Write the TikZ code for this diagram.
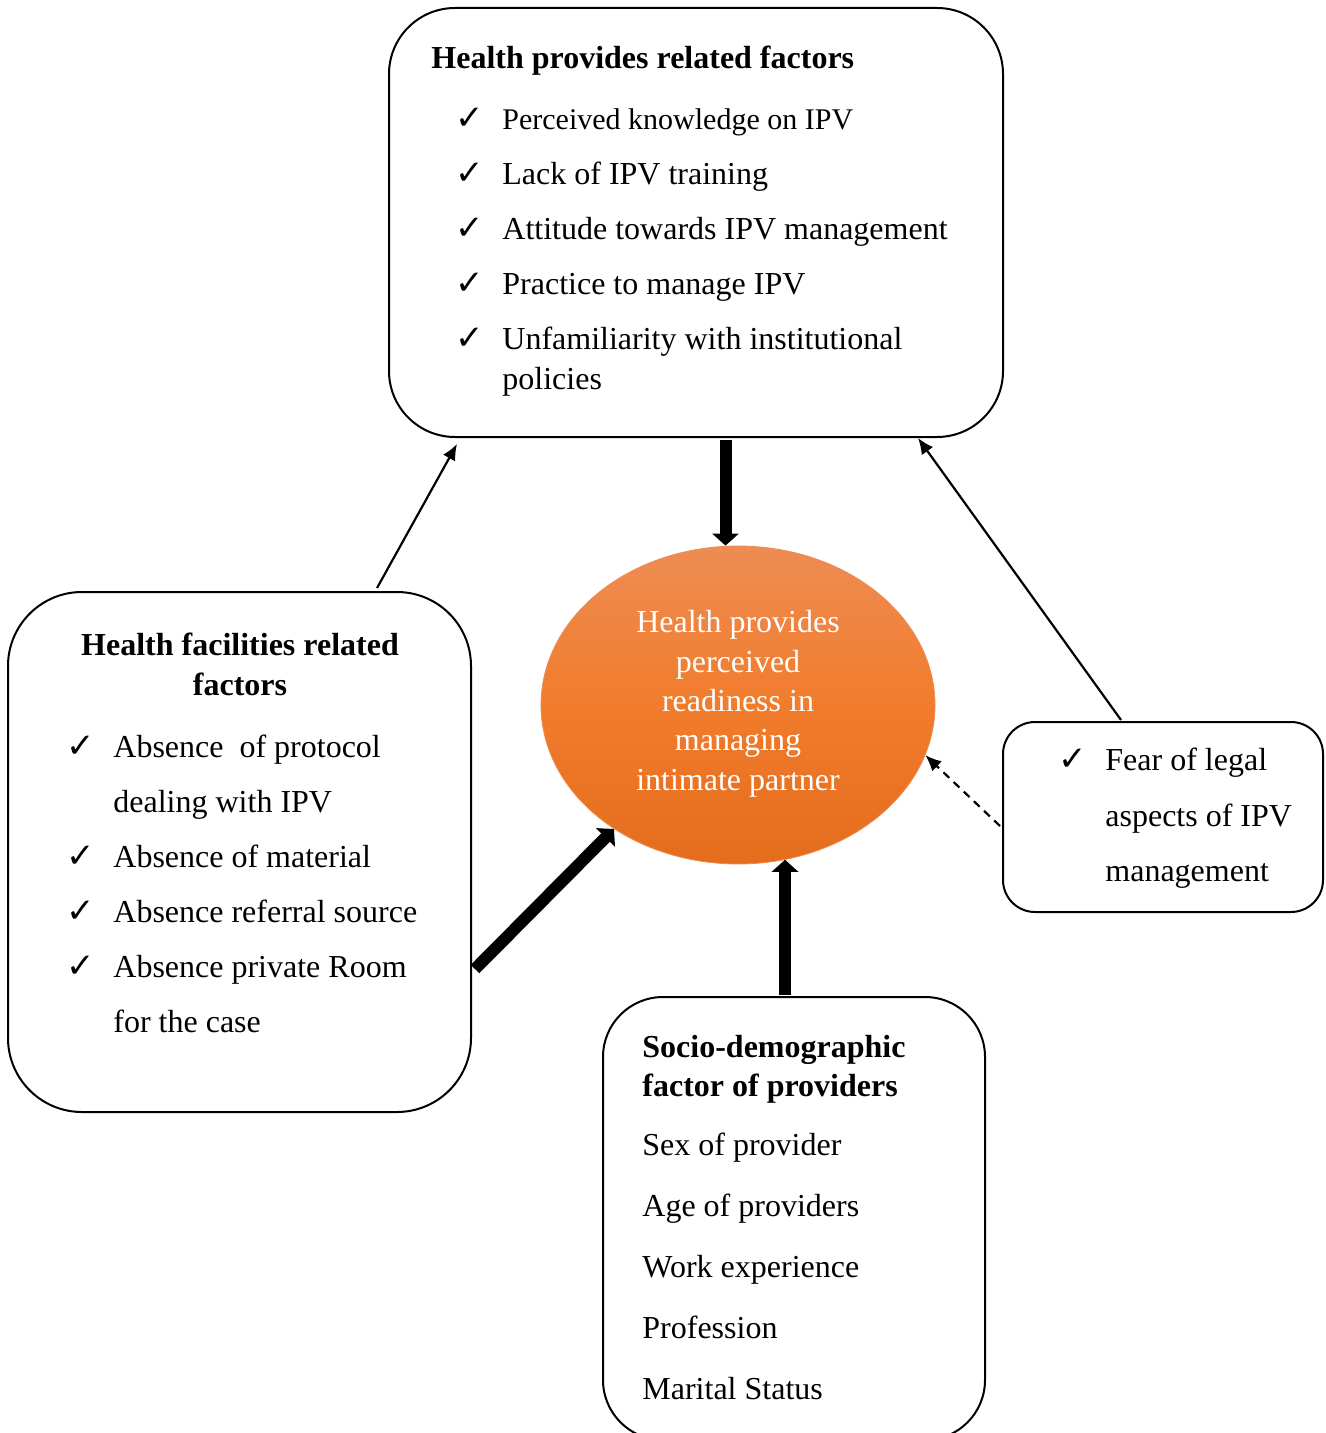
\documentclass[tikz,border=0pt]{standalone}
\usepackage{fontspec}
\setmainfont{Liberation Serif}
\newfontfamily\checkfont{DejaVu Sans}
\usetikzlibrary{arrows.meta,shapes.geometric,calc}
\definecolor{readytop}{RGB}{238,140,84}
\definecolor{readymid}{RGB}{241,124,44}
\definecolor{readybottom}{RGB}{228,108,29}
\newcommand{\ipvcheck}{{\checkfont\bfseries\fontsize{17}{18}\selectfont ✓}}

\begin{document}
\begin{tikzpicture}[
    x=0.5pt, y=-0.5pt,
    factorbox/.style={draw, line width=1pt, rounded corners=33pt, inner sep=0pt},
    boxtext/.style={anchor=base west, inner sep=0pt, font=\fontsize{16}{20}\selectfont},
    boxtitle/.style={inner sep=0pt, font=\bfseries\fontsize{16}{20}\selectfont},
    readytext/.style={anchor=base, inner sep=0pt, text=white, font=\fontsize{16}{20}\selectfont},
    bigarrow/.style={line width=6pt, -{Triangle[width=13pt,length=6pt]}},
    thinarrow/.style={line width=1.1pt, -{Latex[length=8pt,width=7pt]}},
    dasharrow/.style={line width=1.1pt, dash pattern=on 4pt off 3pt, -{Latex[length=8pt,width=7pt]}}
]
    \useasboundingbox (0,0) rectangle (1326,1433);

    % boxes
    \node[factorbox, minimum width=307pt, minimum height=214.5pt] (provbox) at (696,222.5) {};
    \node[factorbox, rounded corners=37pt, minimum width=231.5pt, minimum height=260pt] (facbox) at (239.5,852) {};
    \node[factorbox, rounded corners=16pt, minimum width=160pt, minimum height=95pt] (legalbox) at (1163,817) {};
    \node[factorbox, rounded corners=30pt, minimum width=191pt, minimum height=221.5pt] (sociobox) at (794,1218.5) {};
    \node[ellipse, minimum width=197pt, minimum height=159pt, inner sep=0pt, draw=readytop,
          top color=readytop, bottom color=readybottom, middle color=readymid] (ready) at (738,705) {};

    % health provider factors
    \node[boxtitle, anchor=base west] (provtitle) at (431,69) {Health provides related factors};
    \foreach \y [count=\i] in {130,185,240,295,350}
        \node[boxtext] (provck\i) at (455,\y) {\ipvcheck};
    \node[boxtext, font=\fontsize{15}{18}\selectfont] (prov1) at (502,130) {Perceived knowledge on IPV};
    \node[boxtext] (prov2) at (502,185) {Lack of IPV training};
    \node[boxtext] (prov3) at (502,240) {Attitude towards IPV management};
    \node[boxtext] (prov4) at (502,295) {Practice to manage IPV};
    \node[boxtext] (prov5) at (502,350) {Unfamiliarity with institutional};
    \node[boxtext] (prov5b) at (502,389) {policies};

    % health facility factors
    \node[boxtitle, anchor=base] (factitle) at (240,655) {Health facilities related};
    \node[boxtitle, anchor=base] (factitleb) at (240,695) {factors};
    \foreach \y [count=\i] in {757,867,922,977}
        \node[boxtext] (facck\i) at (66,\y) {\ipvcheck};
    \node[boxtext] (fac1) at (113,757) {Absence\ \ of protocol};
    \node[boxtext] (fac1b) at (113,812) {dealing with IPV};
    \node[boxtext] (fac2) at (113,867) {Absence of material};
    \node[boxtext] (fac3) at (113,922) {Absence referral source};
    \node[boxtext] (fac4) at (113,977) {Absence private Room};
    \node[boxtext] (fac4b) at (113,1032) {for the case};

    % legal fear
    \node[boxtext] (legalck) at (1058,770) {\ipvcheck};
    \node[boxtext] (legal1) at (1105,770) {Fear of legal};
    \node[boxtext] (legal2) at (1105,826) {aspects of IPV};
    \node[boxtext] (legal3) at (1105,881) {management};

    % socio-demographic
    \node[boxtitle, anchor=base west] (sociotitle) at (642,1057) {Socio-demographic};
    \node[boxtitle, anchor=base west] (sociotitleb) at (642,1096) {factor of providers};
    \foreach \y/\txt [count=\i] in {1155/Sex of provider, 1216/Age of providers, 1277/Work experience,
                                     1338/Profession, 1399/Marital Status}
        \node[boxtext] (socio\i) at (642,\y) {\txt};

    % readiness
    \foreach \y/\txt [count=\i] in {632/Health provides, 672/perceived, 711/readiness in,
                                     750/managing, 790/intimate partner}
        \node[readytext] (ready\i) at (738,\y) {\txt};

    % connectors
    \coordinate (downstart) at ($(provbox.south)+(29.5,2)$);
    \coordinate (upstart) at ($(sociobox.north)+(-9,-1)$);
    \draw[bigarrow] (downstart) -- (downstart |- ready.north);
    \draw[bigarrow] (upstart) -- (upstart |- ready.-73);
    \draw[bigarrow] ($(facbox.east)+(3,117)$) -- (ready.225);
    \draw[thinarrow] ($(facbox.north)+(137.5,-3)$) -- ($(provbox.south)+(-239,6)$);
    \draw[thinarrow] ($(legalbox.north)+(-42,-1)$) -- ($(provbox.south)+(222,0)$);
    \draw[dasharrow] ($(legalbox.west)+(-2,9)$) -- (ready.-15);
\end{tikzpicture}
\end{document}
